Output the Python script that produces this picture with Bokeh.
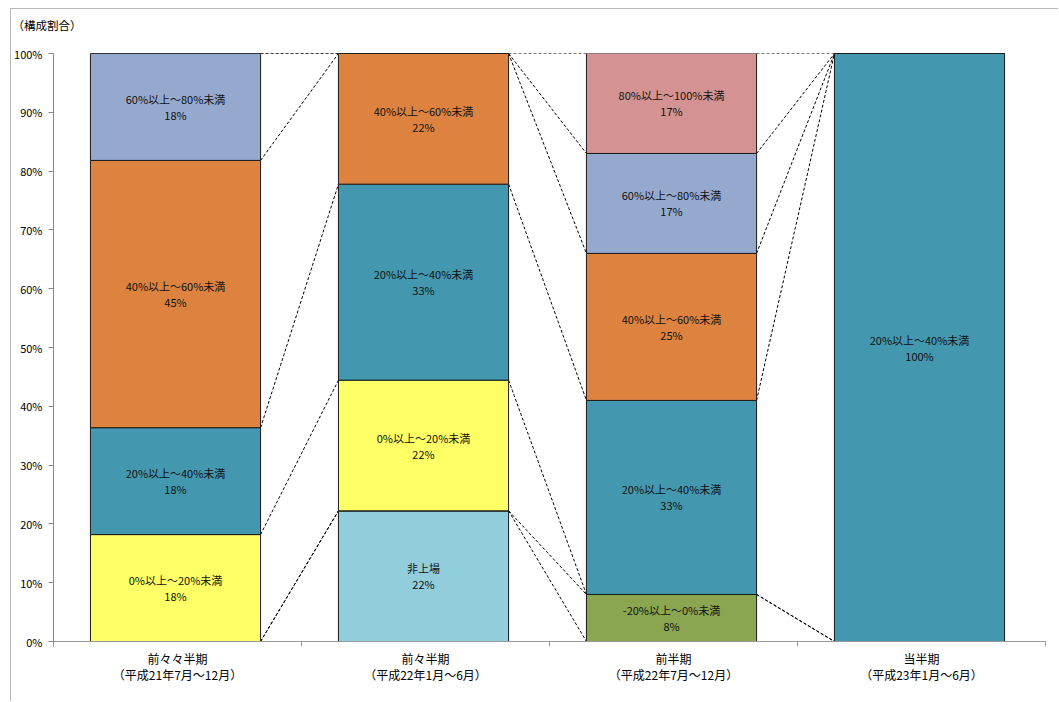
import numpy as np
from bokeh.plotting import figure
from bokeh.models import Range1d, FixedTicker, ColumnDataSource
from bokeh.core.properties import value
from bokeh.embed import file_html
from bokeh.resources import INLINE

FONT = "Noto Sans CJK JP"

periods = ["前々々半期\n（平成21年7月～12月）",
           "前々半期\n（平成22年1月～6月）",
           "前半期\n（平成22年7月～12月）",
           "当半期\n（平成23年1月～6月）"]

# stacking order, bottom to top
series = ["非上場", "-20%以上～0%未満", "0%以上～20%未満", "20%以上～40%未満",
          "40%以上～60%未満", "60%以上～80%未満", "80%以上～100%未満"]
colors = ["#92CDDC", "#8BA650", "#FFFF66", "#4398AF",
          "#DD833F", "#95A9CF", "#D49392"]

v_unlisted = [0, 22, 0, 0]
v_m20_0 = [0, 0, 8, 0]
v_0_20 = [18, 22, 0, 0]
v_20_40 = [18, 33, 33, 100]
v_40_60 = [45, 22, 25, 0]
v_60_80 = [18, 0, 17, 0]
v_80_100 = [0, 0, 17, 0]

vals = np.array([v_unlisted, v_m20_0, v_0_20, v_20_40, v_40_60, v_60_80, v_80_100], dtype=float)
shares = vals / vals.sum(axis=0) * 100.0
tops = np.cumsum(shares, axis=0)
bottoms = tops - shares

xs = np.arange(len(periods)) + 0.5
bar_x = xs - 0.008
bar_w = 0.686

p = figure(width=1048, height=693, x_range=Range1d(0, 4), y_range=Range1d(0, 100),
           output_backend="svg", toolbar_location=None,
           min_border_left=41, min_border_right=14, min_border_top=44, min_border_bottom=61,
           title="（構成割合）\n\u3000")
p.styles = {"margin-left": "10px", "margin-top": "8px",
            "border-left": "1px solid #b8b8b8", "border-top": "1px solid #b8b8b8"}
p.title.text_font = FONT
p.title.text_font_size = "11.5px"
p.title.text_font_style = "normal"
p.title.text_color = "black"
p.title.align = "left"
p.title.offset = -41
p.title.standoff = 10
p.outline_line_color = None
p.grid.visible = False
p.background_fill_color = "white"
p.border_fill_color = "white"

# series lines joining the same segment across neighbouring bars
x0s, y0s, x1s, y1s = [], [], [], []
for s in range(len(series)):
    for i in range(len(periods) - 1):
        x0s.append(bar_x[i] + bar_w / 2)
        y0s.append(tops[s, i])
        x1s.append(bar_x[i + 1] - bar_w / 2)
        y1s.append(tops[s, i + 1])
p.segment(x0=x0s, y0=y0s, x1=x1s, y1=y1s, line_color="black",
          line_dash="3 2", line_width=1)

# stacked segments
for s, name in enumerate(series):
    src = ColumnDataSource(dict(x=bar_x, top=tops[s], bottom=bottoms[s]))
    p.vbar(x="x", top="top", bottom="bottom", width=bar_w, source=src,
           fill_color=colors[s], line_color="#1a1a1a", line_width=1)

# segment labels: category name and share
lx, ly, lt = [], [], []
for s, name in enumerate(series):
    for i in range(len(periods)):
        if vals[s, i] > 0:
            mid = (tops[s, i] + bottoms[s, i]) / 2
            lx.append(bar_x[i])
            ly.append(mid)
            lt.append(f"{name}\n{int(vals[s, i])}%")
p.text(x=lx, y=ly, text=lt, text_align="center", text_baseline="middle",
       text_font=value(FONT), text_font_size="11px", text_color="#111111",
       text_line_height=1.0)

# axes
p.yaxis.ticker = FixedTicker(ticks=list(range(0, 101, 10)))
p.yaxis.major_label_overrides = {t: f"{t}%" for t in range(0, 101, 10)}
p.yaxis.major_label_text_font = FONT
p.yaxis.major_label_text_font_size = "11px"
p.yaxis.major_label_text_color = "black"
p.yaxis.axis_line_color = "#888888"
p.yaxis.major_tick_line_color = "#888888"
p.yaxis.major_tick_out = 5
p.yaxis.major_tick_in = 0
p.yaxis.minor_tick_line_color = None
p.yaxis.major_label_standoff = 6

p.xaxis.ticker = FixedTicker(ticks=list(xs), minor_ticks=[0, 1, 2, 3, 4])
p.xaxis.major_label_overrides = {float(x): lab for x, lab in zip(xs, periods)}
p.xaxis.major_label_text_font = FONT
p.xaxis.major_label_text_font_size = "12px"
p.xaxis.major_label_text_color = "black"
p.xaxis.major_label_text_line_height = 0.95
p.xaxis.axis_line_color = "#999999"
p.xaxis.major_tick_line_color = None
p.xaxis.minor_tick_line_color = "#999999"
p.xaxis.minor_tick_out = 5
p.xaxis.minor_tick_in = 0
p.xaxis.major_label_standoff = 2

open("out.html", "w").write(file_html(p, INLINE))
